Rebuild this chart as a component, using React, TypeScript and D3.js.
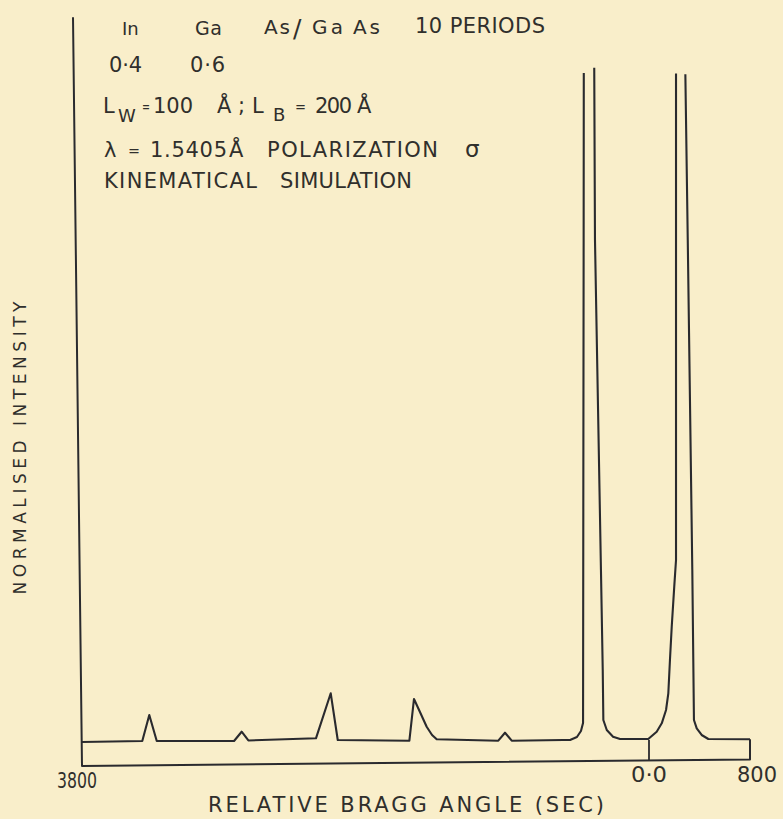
import * as d3 from 'd3';

const W = 783;
const H = 819;

// relative Bragg angle (arc sec) vs normalised intensity.
// null = pen lifted where the two big peaks run off the top of the plot.
const angleSec = [
  -3800, -3396, -3349, -3299,
  -2781, -2730, -2685,
  -2232, -2133, -2086,
  -1606, -1575, -1535, -1490, -1454, -1423,
  -1010, -965, -920,
  -576, -529, -483, -456, -442, -438, -437,
  -437,
  -367, -362, -322, -310, -306, -283, -241, -194,
  -5, 61, 101, 135, 153, 166, 180, 200, 214, 214, 214,
  214,
  288, 307, 343, 356, 378, 417, 470, 800,
];
const intensity: (number | null)[] = [
  0.0317, 0.0331, 0.0706, 0.0331,
  0.0331, 0.0465, 0.0339,
  0.037, 0.1019, 0.0346,
  0.0336, 0.0937, 0.0749, 0.0537, 0.0418, 0.0356,
  0.0336, 0.0451, 0.0336,
  0.0346, 0.0346, 0.0389, 0.0475, 0.0591, 0.755, 0.9957,
  null,
  1.0033, 0.755, 0.2795, 0.1354, 0.0634, 0.049, 0.0393, 0.036,
  0.036, 0.0465, 0.0586, 0.0778, 0.1019, 0.1499, 0.1978, 0.2555, 0.2939, 0.755, 0.995,
  null,
  0.9938, 0.755, 0.2795, 0.0634, 0.0514, 0.0418, 0.036, 0.0356,
];

const tickValues = [-3800, 0, 800];
const tickLabels = ['3800', '0·0', '800'];
const tickNudge = [-5, 0, 7];
const tickWidth = [40, 36, 40];

const INK = '#2a2a2e';
const TEXT = '#302f2c';
const FONT = '"DejaVu Sans", sans-serif';

export default function App() {
  const x = d3.scaleLinear().domain([-3800, 0, 800]).range([82, 649, 750]);
  const y = d3.scaleLinear().domain([0, 1]).range([764, 70]);

  const pts = angleSec.map((s, i) => [s, intensity[i]] as [number, number | null]);
  const line = d3
    .line<[number, number | null]>()
    .defined((d) => d[1] != null)
    .x((d) => x(d[0]))
    .y((d) => y(d[1] as number))
    .curve(d3.curveLinear);

  // hand-drawn frame is a touch off square
  const x0 = x(-3800);
  const x1 = x(800);
  const yb = (px: number) => y(0) + 2 - (6.5 * (px - x0)) / (x1 - x0);
  const topY = y(1.076);
  const lastV = intensity[intensity.length - 1] as number;
  const frame = `M${x0 - 9},${topY} L${x0},${yb(x0)} L${x1},${yb(x1)} L${x1},${y(lastV)}`;

  const zeroIdx = d3.minIndex(angleSec, (s) => Math.abs(s));
  const zeroV = intensity[zeroIdx] as number;

  const t = (props: any, s: string) => (
    <text fontFamily={FONT} fill={TEXT} fontSize={21} lengthAdjust="spacing" {...props}>
      {s}
    </text>
  );

  return (
    <svg width={W} height={H} style={{ position: 'absolute', left: 0, top: 0 }}>
      <rect width={W} height={H} fill="#F9EECA" />

      <path d={frame} fill="none" stroke={INK} strokeWidth={2} strokeLinejoin="round" />
      <line x1={x(0)} x2={x(0)} y1={y(zeroV) + 1} y2={yb(x(0))} stroke={INK} strokeWidth={1.8} />

      <path d={line(pts) ?? undefined} fill="none" stroke={INK} strokeWidth={2.1} strokeLinejoin="round" />

      {/* x tick labels */}
      {tickValues.map((v, i) => (
        <text
          key={v}
          x={x(v) + tickNudge[i]}
          y={yb(x(v)) + 22}
          textAnchor="middle"
          fontFamily={FONT}
          fontSize={21}
          fill={TEXT}
          textLength={tickWidth[i]}
          lengthAdjust="spacingAndGlyphs"
        >
          {tickLabels[i]}
        </text>
      ))}

      {t({ x: 208, y: 812, fontSize: 21, textLength: 396 }, 'RELATIVE  BRAGG  ANGLE   (SEC)')}
      <text
        transform="translate(26,448) rotate(-90)"
        textAnchor="middle"
        fontFamily={FONT}
        fontSize={17}
        fill={TEXT}
        textLength={293}
        lengthAdjust="spacing"
      >
        NORMALISED  INTENSITY
      </text>

      {/* annotation block */}
      {t({ x: 122, y: 35, fontSize: 18 }, 'In')}
      {t({ x: 195, y: 35, fontSize: 19, textLength: 27 }, 'Ga')}
      {t({ x: 264, y: 34, fontSize: 20, textLength: 26 }, 'As')}
      {t({ x: 293, y: 37, fontSize: 25 }, '/')}
      {t({ x: 312, y: 34, fontSize: 20, textLength: 31 }, 'Ga')}
      {t({ x: 353, y: 34, fontSize: 20, textLength: 27 }, 'As')}
      {t({ x: 415, y: 33, fontSize: 21, textLength: 130 }, '10 PERIODS')}

      {t({ x: 109, y: 72, textLength: 33 }, '0·4')}
      {t({ x: 190, y: 72, textLength: 35 }, '0·6')}

      {t({ x: 103, y: 113 }, 'L')}
      {t({ x: 118, y: 122, fontSize: 18, textLength: 15 }, 'W')}
      {t({ x: 142, y: 112, fontSize: 15, textLength: 8, lengthAdjust: 'spacingAndGlyphs' }, '=')}
      {t({ x: 153, y: 113, textLength: 40 }, '100')}
      {t({ x: 217, y: 113, textLength: 14 }, 'Å')}
      {t({ x: 238, y: 113 }, ';')}
      {t({ x: 252, y: 113 }, 'L')}
      {t({ x: 273, y: 121, fontSize: 18, textLength: 14 }, 'B')}
      {t({ x: 295, y: 112, fontSize: 15, textLength: 11, lengthAdjust: 'spacingAndGlyphs' }, '=')}
      {t({ x: 315, y: 113, textLength: 37 }, '200')}
      {t({ x: 357, y: 113, textLength: 15 }, 'Å')}

      {t({ x: 104, y: 157, textLength: 14 }, 'λ')}
      {t({ x: 128, y: 156, fontSize: 15, textLength: 12, lengthAdjust: 'spacingAndGlyphs' }, '=')}
      {t({ x: 150, y: 157, textLength: 77 }, '1.5405')}
      {t({ x: 229, y: 157, textLength: 16 }, 'Å')}
      {t({ x: 267, y: 157, textLength: 171 }, 'POLARIZATION')}
      {t({ x: 465, y: 157, fontSize: 23 }, 'σ')}

      {t({ x: 104, y: 188, textLength: 153 }, 'KINEMATICAL')}
      {t({ x: 280, y: 188, textLength: 132 }, 'SIMULATION')}
    </svg>
  );
}
